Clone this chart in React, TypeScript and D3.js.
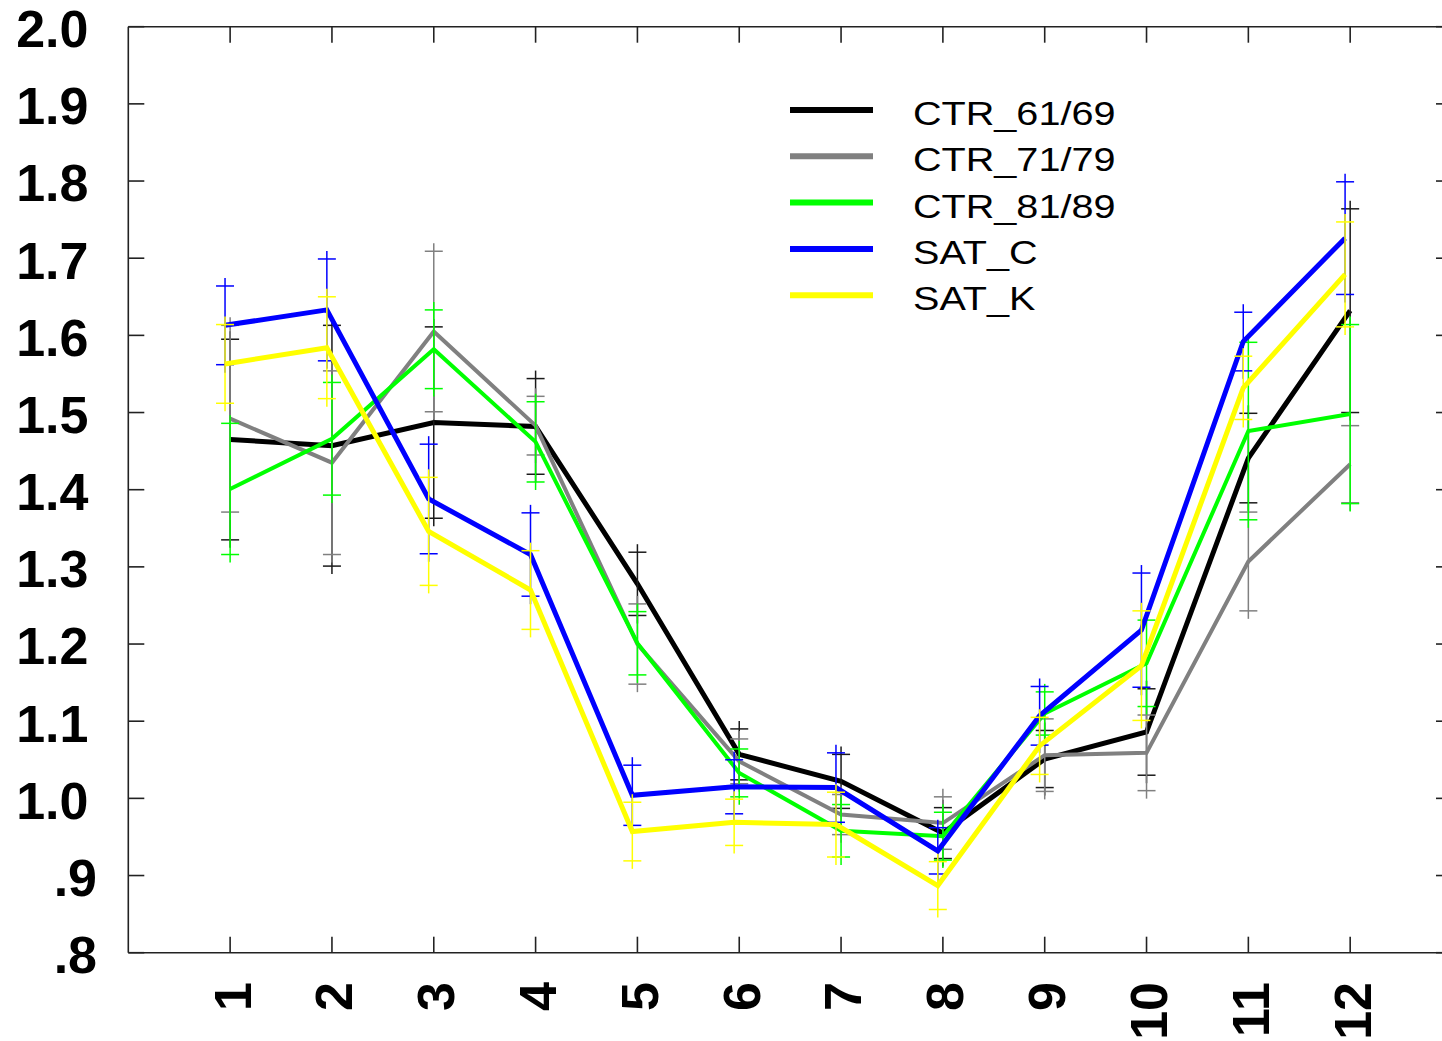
import React from "react";
import * as d3 from "d3";

// Monthly means and one-sigma spreads for each experiment
const months = [1, 2, 3, 4, 5, 6, 7, 8, 9, 10, 11, 12];

const ctr6169Mean = [1.465, 1.457, 1.487, 1.482, 1.278, 1.057, 1.022, 0.955, 1.051, 1.086, 1.441, 1.632];
const ctr6169Sd = [0.13, 0.156, 0.124, 0.062, 0.041, 0.033, 0.035, 0.033, 0.037, 0.056, 0.058, 0.132];

const ctr7179Mean = [1.492, 1.435, 1.605, 1.483, 1.2, 1.048, 0.979, 0.968, 1.056, 1.059, 1.307, 1.433];
const ctr7179Sd = [0.121, 0.119, 0.104, 0.038, 0.052, 0.029, 0.026, 0.034, 0.047, 0.049, 0.064, 0.05];

const ctr8189Mean = [1.401, 1.466, 1.582, 1.462, 1.201, 1.033, 0.958, 0.951, 1.11, 1.175, 1.476, 1.498];
const ctr8189Sd = [0.085, 0.073, 0.051, 0.052, 0.041, 0.031, 0.034, 0.031, 0.028, 0.056, 0.115, 0.116];

const satCMean = [1.613, 1.633, 1.388, 1.316, 1.004, 1.015, 1.014, 0.932, 1.107, 1.218, 1.592, 1.726];
const satCSd = [0.051, 0.066, 0.071, 0.054, 0.039, 0.035, 0.045, 0.03, 0.038, 0.074, 0.038, 0.073];

const satKMean = [1.563, 1.584, 1.346, 1.27, 0.957, 0.969, 0.966, 0.887, 1.068, 1.172, 1.532, 1.679];
const satKSd = [0.051, 0.066, 0.07, 0.051, 0.038, 0.03, 0.042, 0.031, 0.037, 0.071, 0.041, 0.068];

const yTickValues = [0.8, 0.9, 1.0, 1.1, 1.2, 1.3, 1.4, 1.5, 1.6, 1.7, 1.8, 1.9, 2.0];
const yTickLabels = [".8", ".9", "1.0", "1.1", "1.2", "1.3", "1.4", "1.5", "1.6", "1.7", "1.8", "1.9", "2.0"];

type Series = {
  name: string;
  mean: number[];
  sd: number[];
  color: string;
  barColor: string;
  width: number;
  shift: number; // horizontal offset in months
};

const series: Series[] = [
  { name: "CTR_61/69", mean: ctr6169Mean, sd: ctr6169Sd, color: "#000000", barColor: "#1a1a1a", width: 5, shift: 0 },
  { name: "CTR_71/79", mean: ctr7179Mean, sd: ctr7179Sd, color: "#808080", barColor: "#808080", width: 4, shift: 0 },
  { name: "CTR_81/89", mean: ctr8189Mean, sd: ctr8189Sd, color: "#00ff00", barColor: "#00ff00", width: 4, shift: 0 },
  { name: "SAT_C", mean: satCMean, sd: satCSd, color: "#0000ff", barColor: "#0000ff", width: 5, shift: -0.05 },
  { name: "SAT_K", mean: satKMean, sd: satKSd, color: "#ffff00", barColor: "#ffff00", width: 5, shift: -0.05 },
];

const W = 1442;
const H = 1041;
const left = 128.3;
const right = 1452;
const top = 26.7;
const bottom = 952.7;

const x = d3.scaleLinear().domain([0, 13]).range([left, right]);
const y = d3.scaleLinear().domain([0.8, 2.0]).range([bottom, top]);

const axisColor = "#222";
const tickLen = 16;
const capHalf = 9;
const capExt = 8;
const font = "'Liberation Sans', Arial, Helvetica, sans-serif";

export default function App() {
  return (
    <svg
      width={W}
      height={H}
      viewBox={`0 0 ${W} ${H}`}
      style={{ position: "absolute", left: 0, top: 0, background: "#fff" }}
    >
      <rect x={0} y={0} width={W} height={H} fill="#fff" />

      {/* frame */}
      <g stroke={axisColor} strokeWidth={1.6} fill="none">
        <line x1={left} y1={top} x2={right} y2={top} />
        <line x1={left} y1={bottom} x2={right} y2={bottom} />
        <line x1={left} y1={top} x2={left} y2={bottom} />
        <line x1={right} y1={top} x2={right} y2={bottom} />
        {months.map((m) => (
          <g key={`xt${m}`}>
            <line x1={x(m)} y1={top} x2={x(m)} y2={top + tickLen} />
            <line x1={x(m)} y1={bottom} x2={x(m)} y2={bottom - tickLen} />
          </g>
        ))}
        {yTickValues.map((v) => (
          <g key={`yt${v}`}>
            <line x1={left} y1={y(v)} x2={left + tickLen} y2={y(v)} />
            <line x1={right} y1={y(v)} x2={right - tickLen} y2={y(v)} />
          </g>
        ))}
      </g>

      {/* y tick labels */}
      <g fontFamily={font} fontWeight={700} fontSize={52} fill="#000">
        {yTickValues.map((v, i) => (
          <text
            key={`yl${v}`}
            x={yTickLabels[i].startsWith(".") ? 97 : 88.5}
            y={y(v) + 20.4}
            textAnchor="end"
          >
            {yTickLabels[i]}
          </text>
        ))}
      </g>

      {/* x tick labels, rotated */}
      <g fontFamily={font} fontWeight={700} fontSize={52} fill="#000">
        {months.map((m) => (
          <text
            key={`xl${m}`}
            transform={`translate(${x(m) + 20.4},982) rotate(-90)`}
            textAnchor="end"
          >
            {String(m)}
          </text>
        ))}
      </g>

      {/* series: line then error bars */}
      {series.map((s) => {
        const px = (i: number) => x(months[i] + s.shift);
        const path = d3
          .line<number>()
          .x((_, i) => px(i))
          .y((d) => y(d))(s.mean);
        return (
          <g key={s.name}>
            <path d={path ?? ""} fill="none" stroke={s.color} strokeWidth={s.width} strokeLinejoin="miter" />
            <g stroke={s.barColor} strokeWidth={1.5} fill="none">
              {s.mean.map((v, i) => {
                const hi = y(v + s.sd[i]);
                const lo = y(v - s.sd[i]);
                const cx = px(i);
                return (
                  <g key={i}>
                    <line x1={cx} y1={hi - capExt} x2={cx} y2={lo + capExt} />
                    <line x1={cx - capHalf} y1={hi} x2={cx + capHalf} y2={hi} />
                    <line x1={cx - capHalf} y1={lo} x2={cx + capHalf} y2={lo} />
                  </g>
                );
              })}
            </g>
          </g>
        );
      })}

      {/* legend */}
      <g>
        {series.map((s, i) => {
          const ly = 110 + i * 46.3;
          return (
            <g key={`lg${s.name}`}>
              <line x1={790} y1={ly} x2={873} y2={ly} stroke={s.color} strokeWidth={6} />
              <text
                transform={`translate(913,${ly + 15}) scale(1.2,1)`}
                fontFamily={font}
                fontSize={33}
                fill="#000"
              >
                {s.name}
              </text>
            </g>
          );
        })}
      </g>
    </svg>
  );
}
